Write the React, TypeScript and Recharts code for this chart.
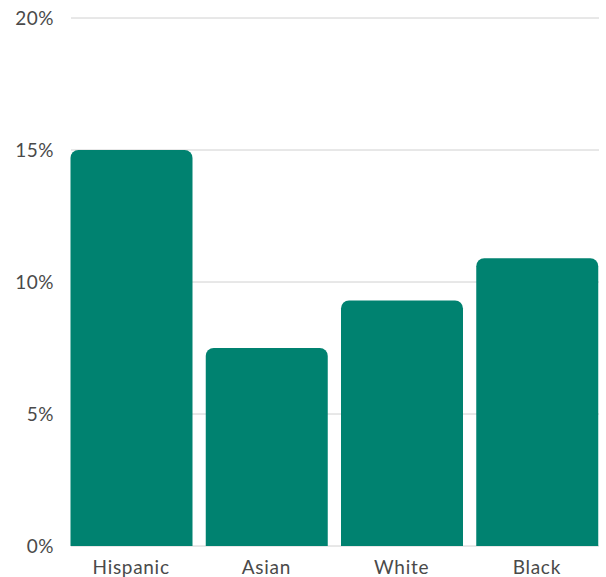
import React from "react";
import { BarChart, Bar, XAxis, YAxis, CartesianGrid } from "recharts";

const categories = ["Hispanic", "Asian", "White", "Black"];
const values = [15.0, 7.5, 9.3, 10.9];
const yTicks = [0, 5, 10, 15, 20];

const data = categories.map((name, i) => ({ name, value: values[i] }));

const FONT = "Lato, 'Noto Sans', sans-serif";

export default function App() {
  return (
    <div style={{ position: "absolute", left: 0, top: 0, width: 606, height: 577, background: "#fff" }}>
      <BarChart
        width={606}
        height={577}
        data={data}
        margin={{ top: 18, right: 7, bottom: 0, left: 0 }}
        barSize={122}
      >
        <CartesianGrid vertical={false} stroke="#d0d0d0" />
        <XAxis
          dataKey="name"
          axisLine={false}
          tickLine={false}
          tickSize={0}
          tickMargin={15}
          height={31}
          padding={{ left: -7.5, right: -5.5 }}
          tick={{ fill: "#4a4a4a", fontSize: 19, fontFamily: FONT, letterSpacing: 0.7 }}
          interval={0}
        />
        <YAxis
          width={71}
          domain={[0, 20]}
          ticks={yTicks}
          axisLine={false}
          tickLine={false}
          tickSize={0}
          tickMargin={17}
          tickFormatter={(v: number) => `${v}%`}
          tick={{ fill: "#4a4a4a", fontSize: 19, fontFamily: FONT, letterSpacing: 0.5 }}
        />
        <Bar dataKey="value" fill="#008270" radius={[8, 8, 0, 0]} isAnimationActive={false} />
      </BarChart>
    </div>
  );
}
